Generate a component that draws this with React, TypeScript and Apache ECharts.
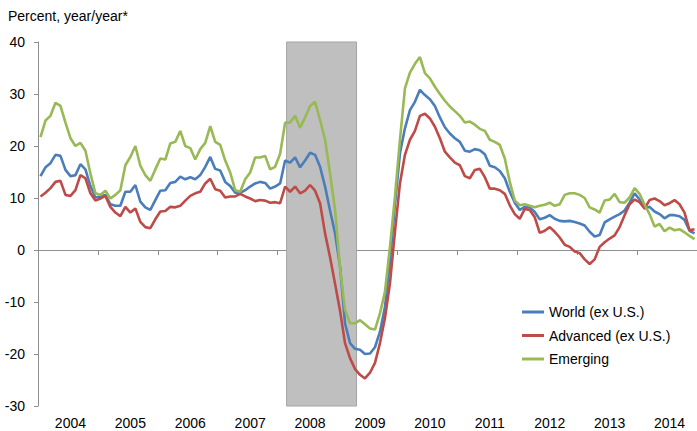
import React, { useEffect, useRef } from 'react';
import * as echarts from 'echarts';

const years = ['2004', '2005', '2006', '2007', '2008', '2009', '2010', '2011', '2012', '2013', '2014'];

const world = [
  14.2, 15.9, 16.7, 18.3, 18.1, 15.4, 14.2, 14.4, 16.5, 15.5, 12.3, 10.1,
  10.3, 10.6, 8.8, 8.5, 8.5, 11.2, 11.2, 12.5, 9.3, 8.2, 7.7, 9.6,
  11.4, 11.5, 12.9, 13.1, 14.1, 13.6, 14.0, 13.6, 14.4, 16.0, 17.9, 15.6,
  15.3, 13.1, 12.3, 11.0, 11.0, 11.5, 12.2, 12.8, 13.1, 12.9, 11.8, 12.2,
  12.8, 17.2, 16.8, 17.8, 15.9, 17.2, 18.7, 18.3, 16.0, 12.2, 7.6, 3.2,
  -3.2, -14.1, -17.9, -19.0, -19.2, -20.0, -19.9, -18.7, -15.7, -10.9, -2.2, 8.7,
  18.6, 23.4, 26.9, 28.5, 30.8, 29.8, 29.0, 27.7, 25.5, 23.6, 22.4, 21.5,
  20.8, 19.1, 18.9, 19.4, 19.2, 18.4, 16.2, 15.9, 15.2, 13.8, 11.2, 9.1,
  7.7, 8.3, 8.2, 7.3, 5.9, 6.2, 6.7, 6.0, 5.6, 5.5, 5.6, 5.4,
  5.1, 4.7, 3.5, 2.6, 2.9, 5.3, 5.9, 6.4, 6.9, 7.6, 9.1, 10.9,
  9.7, 8.0, 8.3, 7.4, 6.9, 6.1, 6.7, 6.7, 6.5, 5.8, 3.7, 3.2,
];

const advanced = [
  10.3, 11.0, 11.9, 13.1, 13.3, 10.6, 10.4, 11.5, 14.4, 13.8, 10.9, 9.5,
  9.9, 10.4, 8.3, 7.2, 6.5, 8.3, 7.2, 8.0, 5.4, 4.4, 4.2, 5.9,
  7.4, 7.5, 8.3, 8.2, 8.5, 9.5, 10.4, 10.9, 11.2, 12.8, 13.7, 11.7,
  11.4, 10.1, 10.3, 10.3, 10.8, 10.3, 9.9, 9.4, 9.6, 9.5, 9.1, 9.2,
  9.0, 12.2, 11.2, 12.2, 10.9, 11.4, 12.5, 11.4, 9.0, 3.2, -1.4, -6.5,
  -11.7, -17.9, -20.8, -22.9, -24.0, -24.7, -23.6, -21.7, -17.9, -13.1, -6.4, 3.5,
  12.8, 18.3, 21.2, 22.9, 25.8, 26.2, 25.3, 23.7, 21.5, 18.9, 17.8, 16.8,
  16.3, 14.2, 13.8, 15.4, 15.6, 14.0, 11.8, 11.8, 11.5, 10.8, 8.6, 6.9,
  6.0, 7.9, 7.7, 6.3, 3.3, 3.7, 4.4, 3.5, 2.4, 1.0, 0.6, -0.3,
  -0.6, -1.8, -2.7, -1.8, 0.6, 1.5, 2.2, 2.8, 4.4, 6.7, 8.8, 9.7,
  9.2, 8.0, 9.6, 9.9, 9.4, 8.6, 9.0, 9.6, 8.8, 7.2, 3.8, 4.0,
];

const emerging = [
  21.7, 24.9, 25.8, 28.3, 27.7, 24.5, 21.5, 20.0, 20.6, 19.1, 14.7, 10.9,
  10.6, 11.4, 9.9, 10.6, 11.5, 16.3, 17.9, 20.0, 16.2, 14.4, 13.3, 15.5,
  17.6, 17.4, 20.5, 20.8, 22.9, 20.0, 19.6, 17.4, 19.4, 20.6, 23.8, 20.8,
  20.2, 17.2, 14.9, 11.5, 11.2, 13.6, 14.9, 17.8, 17.8, 18.1, 15.5, 16.0,
  18.5, 24.5, 24.5, 25.8, 23.5, 25.5, 27.7, 28.5, 25.0, 21.2, 14.7, 7.7,
  -3.5, -11.5, -14.1, -14.1, -13.5, -14.3, -15.1, -15.3, -12.2, -8.0, 0.6, 10.3,
  21.2, 31.1, 34.1, 35.8, 37.1, 34.0, 33.0, 31.4, 30.0, 28.7, 27.6, 26.7,
  25.8, 24.5, 24.7, 24.1, 23.3, 22.9, 21.2, 20.8, 20.2, 17.6, 13.1, 9.5,
  8.6, 8.8, 8.5, 8.2, 8.5, 8.7, 9.1, 8.5, 8.8, 10.6, 10.9, 10.9,
  10.6, 10.0, 8.2, 7.8, 7.2, 9.5, 9.7, 10.8, 9.2, 9.1, 10.1, 11.9,
  10.8, 8.7, 6.9, 4.5, 5.0, 3.6, 4.3, 3.8, 4.0, 3.4, 2.7, 2.1,
];

const seriesNames = ['World (ex U.S.)', 'Advanced (ex U.S.)', 'Emerging'];
const seriesColors = ['#4a7ebb', '#be4b48', '#98b954'];
// shaded period, in months counted from the start of the first year
const bandStartMonth = 49.8;
const bandEndMonth = 63.8;

const months: string[] = [];
years.forEach((y) => {
  for (let m = 1; m <= 12; m++) months.push(`${y}-${m < 10 ? '0' + m : m}`);
});

const FONT = '"Liberation Sans", Arial, sans-serif';

export default function App() {
  const ref = useRef<HTMLDivElement>(null);
  useEffect(() => {
    if (!ref.current) return;
    const chart = echarts.init(ref.current, undefined, { renderer: 'svg' });
    const values = [world, advanced, emerging];
    chart.setOption({
      animation: false,
      textStyle: { fontFamily: FONT },
      title: {
        text: 'Percent, year/year*',
        left: 8,
        top: 9,
        padding: 0,
        textStyle: { fontSize: 14, fontWeight: 'normal', color: '#000', fontFamily: FONT },
      },
      legend: {
        data: seriesNames,
        orient: 'vertical',
        left: 522,
        top: 305,
        padding: 0,
        itemWidth: 22,
        itemHeight: 3,
        itemGap: 9.5,
        icon: 'rect',
        textStyle: { fontSize: 14, color: '#000', fontFamily: FONT },
      },
      grid: { left: 38, top: 42, width: 660, height: 364 },
      xAxis: [
        {
          type: 'category',
          data: months,
          boundaryGap: true,
          axisLine: { show: false, onZero: false },
          axisTick: { show: false },
          splitLine: { show: false },
          axisLabel: {
            interval: (i: number) => i % 12 === 6,
            formatter: (v: string) => v.slice(0, 4),
            fontSize: 14,
            color: '#000',
            margin: 10,
            fontFamily: FONT,
          },
        },
        {
          type: 'category',
          data: months,
          boundaryGap: true,
          position: 'bottom',
          axisLine: { show: true, onZero: true, lineStyle: { color: '#8e8e8e', width: 1 } },
          axisTick: { show: true, interval: (i: number) => i % 12 === 0, length: 5, lineStyle: { color: '#8e8e8e' } },
          axisLabel: { show: false },
          splitLine: { show: false },
        },
        {
          type: 'value',
          min: 0,
          max: months.length,
          show: false,
          position: 'top',
          splitLine: { show: false },
        },
      ],
      yAxis: {
        type: 'value',
        min: -30,
        max: 40,
        interval: 10,
        axisLine: { show: true, lineStyle: { color: '#8e8e8e', width: 1 } },
        axisTick: { show: true, length: 4, lineStyle: { color: '#8e8e8e' } },
        splitLine: { show: false },
        axisLabel: { fontSize: 14, color: '#000', margin: 13, fontFamily: FONT },
      },
      series: [
        {
          name: 'band',
          type: 'line',
          xAxisIndex: 2,
          data: [],
          z: -1,
          silent: true,
          symbol: 'none',
          markArea: {
            silent: true,
            itemStyle: { color: '#bfbfbf', borderColor: '#a3a3a3', borderWidth: 1 },
            data: [[{ xAxis: bandStartMonth }, { xAxis: bandEndMonth }]],
          },
        },
        ...seriesNames.map((name, i) => ({
          name,
          type: 'line',
          data: values[i],
          symbol: 'none',
          showSymbol: false,
          z: 3,
          lineStyle: { color: seriesColors[i], width: 2.6 },
          itemStyle: { color: seriesColors[i] },
        })),
      ],
    });
    return () => chart.dispose();
  }, []);
  return (
    <div
      ref={ref}
      style={{ position: 'absolute', left: 0, top: 0, width: 697, height: 431, background: '#fff' }}
    />
  );
}
